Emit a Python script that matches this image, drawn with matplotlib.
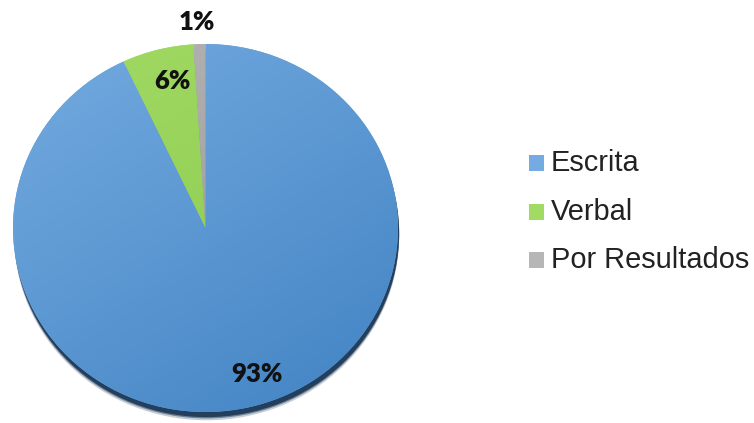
import matplotlib
matplotlib.use("Agg")
import matplotlib.pyplot as plt
import numpy as np
from matplotlib.patches import Ellipse, Rectangle
from matplotlib.colors import LinearSegmentedColormap

categories = ["Escrita", "Verbal", "Por Resultados"]
values = [93, 6, 1]
labels = ["93%", "6%", "1%"]

W, H = 754, 423
fig = plt.figure(figsize=(W / 100, H / 100), dpi=100)

# pie area in pixels
cx, cy = 205.5, 195.0
rx, ry = 192.5, 184.0
ax = fig.add_axes([(cx - rx) / W, (cy - ry) / H, 2 * rx / W, 2 * ry / H])
ax.set_xlim(-1, 1)
ax.set_ylim(-1, 1)
ax.set_aspect("auto")
ax.axis("off")

# soft shadow under the pie
for dy, a in [(0.045, 0.25), (0.035, 0.5), (0.028, 0.9)]:
    ax.add_patch(Ellipse((0.006, -dy), 2.0, 2.0, facecolor="#1c3857",
                         edgecolor="none", alpha=a, zorder=1, clip_on=False))

grads = [("#74abe0", "#4283c3"), ("#a2db64", "#88c64b"), ("#b6b6b6", "#929292")]
wedges, _ = ax.pie(values, startangle=90, counterclock=False, radius=1,
                   colors=[g[0] for g in grads],
                   wedgeprops=dict(edgecolor="none"))
for w, (c1, c2) in zip(wedges, grads):
    w.set_zorder(2)
    cmap = LinearSegmentedColormap.from_list("g", [c1, c2])
    yy, xx = np.mgrid[0:1:200j, 0:1:200j]
    grad = xx * 0.4 + yy * 0.6
    im = ax.imshow(grad, cmap=cmap, extent=(-1, 1, -1, 1), origin="upper",
                   zorder=3, aspect="auto", interpolation="bilinear")
    im.set_clip_path(w)
ax.set_xlim(-1, 1)
ax.set_ylim(-1, 1)

# percentage labels (pixel positions from top)
label_px = [(257, 374), (172, 81), (197, 22)]
for lab, (px, py) in zip(labels, label_px):
    fig.text(px / W, 1 - py / H, lab, ha="center", va="center",
             fontsize=18.5, fontweight="heavy", family="Lato", color="#111111")

# legend
leg_y = [163, 212, 260]
for cat, (c1, c2), ly in zip(categories, grads, leg_y):
    fig.patches.append(Rectangle((529 / W, 1 - (ly + 8) / H), 15 / W, 16 / H,
                                 transform=fig.transFigure, facecolor=c1,
                                 edgecolor="none"))
    fig.text(551 / W, 1 - ly / H, cat, ha="left", va="center",
             fontsize=20.9, family="Liberation Sans", color="#222222")

fig.savefig("out.png", dpi=100)
